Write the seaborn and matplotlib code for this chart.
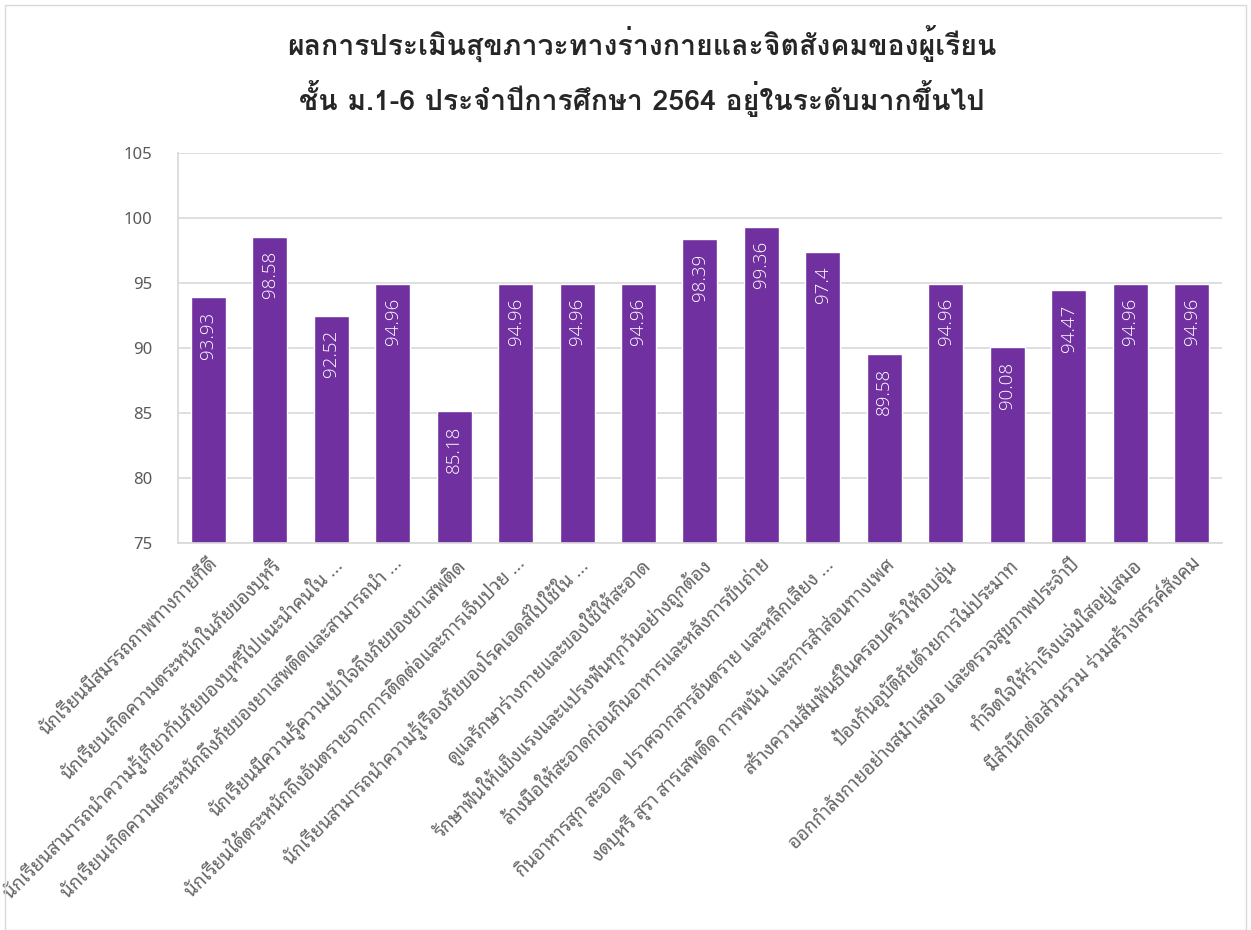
import matplotlib
matplotlib.use("Agg")
import matplotlib.pyplot as plt
import seaborn as sns

# dati
title_text = "ผลการประเมินสุขภาวะทางร่างกายและจิตสังคมของผู้เรียน\nชั้น ม.1-6 ประจำปีการศึกษา 2564 อยู่ในระดับมากขึ้นไป"
categories = [
    "นักเรียนมีสมรรถภาพทางกายที่ดี",
    "นักเรียนเกิดความตระหนักในภัยของบุหรี่",
    "นักเรียนสามารถนำความรู้เกี่ยวกับภัยของบุหรี่ไปแนะนำคนใน ...",
    "นักเรียนเกิดความตระหนักถึงภัยของยาเสพติดและสามารถนำ ...",
    "นักเรียนมีความรู้ความเข้าใจถึงภัยของยาเสพติด",
    "นักเรียนได้ตระหนักถึงอันตรายจากการติดต่อและการเจ็บป่วย ...",
    "นักเรียนสามารถนำความรู้เรื่องภัยของโรคเอดส์ไปใช้ใน ...",
    "ดูแลรักษาร่างกายและของใช้ให้สะอาด",
    "รักษาฟันให้แข็งแรงและแปรงฟันทุกวันอย่างถูกต้อง",
    "ล้างมือให้สะอาดก่อนกินอาหารและหลังการขับถ่าย",
    "กินอาหารสุก สะอาด ปราศจากสารอันตราย และหลีกเลี่ยง ...",
    "งดบุหรี่ สุรา สารเสพติด การพนัน และการสำส่อนทางเพศ",
    "สร้างความสัมพันธ์ในครอบครัวให้อบอุ่น",
    "ป้องกันอุบัติภัยด้วยการไม่ประมาท",
    "ออกกำลังกายอย่างสม่ำเสมอ และตรวจสุขภาพประจำปี",
    "ทำจิตใจให้ร่าเริงแจ่มใสอยู่เสมอ",
    "มีสำนึกต่อส่วนรวม ร่วมสร้างสรรค์สังคม",
]
values = [93.93, 98.58, 92.52, 94.96, 85.18, 94.96, 94.96, 94.96,
          98.39, 99.36, 97.4, 89.58, 94.96, 90.08, 94.47, 94.96, 94.96]
y_ticks = [75, 80, 85, 90, 95, 100, 105]

sns.set_theme(style="white")
# font thai con ripiego su DejaVu
plt.rcParams["font.family"] = ["Noto Sans Thai Looped", "Loma", "DejaVu Sans"]

fig = plt.figure(figsize=(12.51, 9.3), dpi=100)
ax = fig.add_axes([0.142, 0.416, 0.835, 0.419])

sns.barplot(x=categories, y=values, color="#7030A0", width=0.57,
            saturation=1, ax=ax)

ax.set_ylim(75, 105)
ax.set_yticks(y_ticks)
ax.yaxis.grid(True, color="#D9D9D9", linewidth=1.2)
ax.set_axisbelow(True)
for s in ["top", "right"]:
    ax.spines[s].set_visible(False)
ax.spines["left"].set_color("#D9D9D9")
ax.spines["bottom"].set_color("#D9D9D9")
ax.tick_params(axis="y", length=0, labelsize=12, labelcolor="#595959", pad=18)
ax.tick_params(axis="x", length=0, pad=8)
ax.set_xticks(range(len(categories)))
ax.set_xticklabels(categories, rotation=45, ha="right", rotation_mode="anchor",
                   fontsize=13.5, color="#666666")
ax.set_xlabel("")
ax.set_ylabel("")

# etichette dei valori dentro le barre
for i, v in enumerate(values):
    ax.text(i, v - 1.1, f"{v:g}", rotation=90, ha="center", va="top",
            color="white", fontsize=13.5, fontweight="light",
            family=["Open Sans", "DejaVu Sans"])

fig.suptitle(title_text, x=0.513, y=0.972, fontsize=20.5, fontweight="bold",
             color="#262626", linespacing=1.55, family=["Loma", "DejaVu Sans"])

# bordo dell'area del grafico
fig.patches.append(plt.Rectangle((0.004, 0.0), 0.992, 0.995, transform=fig.transFigure,
                                 fill=False, edgecolor="#D9D9D9", linewidth=1))

fig.savefig("out.png", dpi=100)
